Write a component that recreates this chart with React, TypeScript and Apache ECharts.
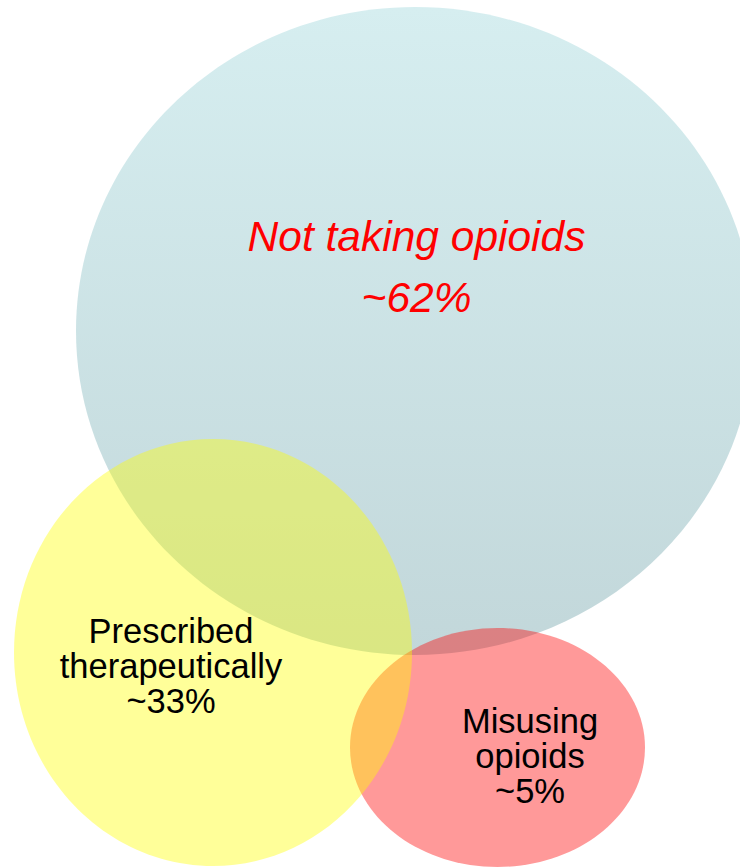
import React, { useEffect, useRef } from "react";
import * as echarts from "echarts";

// ---- data ----
const groups = ["Not taking opioids", "Prescribed therapeutically", "Misusing opioids"];
const shares = [62, 33, 5];
const labelLines = [["Not taking opioids"], ["Prescribed", "therapeutically"], ["Misusing", "opioids"]];

// ---- layout (hidden plane, 740 x 868 units) ----
const W = 740;
const H = 868;
const shapes = [
  { cx: 415, cy: 331, rx: 339, ry: 324, tx: 416.5, ty: 266.5, font: 42.5, lh: 61, italic: true, color: "#ff0000", z: 1 },
  { cx: 213, cy: 652.5, rx: 199, ry: 213.5, tx: 171, ty: 666, font: 34.5, lh: 35, italic: false, color: "#000000", z: 3 },
  { cx: 497.5, cy: 747.5, rx: 147.5, ry: 119.5, tx: 530, ty: 756, font: 34.5, lh: 35, italic: false, color: "#000000", z: 2 },
];

const fills: any[] = [
  new echarts.graphic.LinearGradient(0, 0, 0, 1, [
    { offset: 0, color: "#d6eef0" },
    { offset: 1, color: "#c2d7da" },
  ]),
  "rgba(255,255,0,0.4)",
  "rgba(255,0,0,0.4)",
];

export default function App() {
  const ref = useRef<HTMLDivElement>(null);
  useEffect(() => {
    if (!ref.current) return;
    const chart = echarts.init(ref.current, undefined, { renderer: "svg" });
    chart.setOption({
      animation: false,
      grid: { left: 0, right: 0, top: 0, bottom: 0 },
      xAxis: { type: "value", min: 0, max: W, show: false },
      yAxis: { type: "value", min: 0, max: H, inverse: true, show: false },
      series: [
        {
          type: "custom",
          clip: false,
          silent: true,
          data: groups.map((g, i) => ({ name: g, value: [shapes[i].cx, shapes[i].cy, shares[i]] })),
          renderItem: (params: any, api: any) => {
            const i = params.dataIndex;
            const s = shapes[i];
            const c = api.coord([s.cx, s.cy]);
            const e = api.coord([s.cx + s.rx, s.cy + s.ry]);
            const t = api.coord([s.tx, s.ty]);
            const text = [...labelLines[i], "~" + shares[i] + "%"].join("\n");
            return {
              type: "group",
              children: [
                {
                  type: "ellipse",
                  z2: s.z,
                  shape: { cx: c[0], cy: c[1], rx: Math.abs(e[0] - c[0]), ry: Math.abs(e[1] - c[1]) },
                  style: { fill: fills[i], stroke: null },
                },
                {
                  type: "text",
                  z2: 10,
                  x: t[0],
                  y: t[1],
                  style: {
                    text,
                    fill: s.color,
                    fontFamily: "'Liberation Sans', Arial, sans-serif",
                    fontSize: s.font,
                    fontStyle: s.italic ? "italic" : "normal",
                    lineHeight: s.lh,
                    align: "center",
                    verticalAlign: "middle",
                  },
                },
              ],
            };
          },
        },
      ],
    });
    return () => chart.dispose();
  }, []);
  return (
    <div
      ref={ref}
      style={{ position: "fixed", left: 0, top: 0, width: W, height: H, background: "#ffffff" }}
    />
  );
}
